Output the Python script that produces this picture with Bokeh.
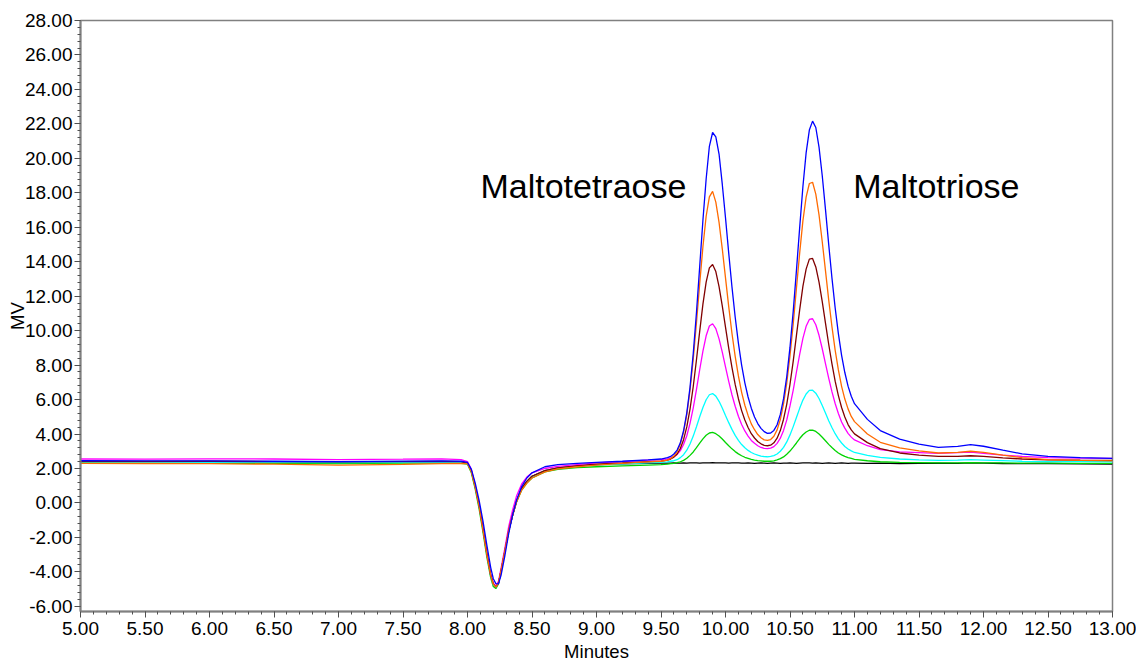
import numpy as np
from bokeh.plotting import figure
from bokeh.models import FixedTicker, PrintfTickFormatter, Label
from bokeh.embed import file_html
from bokeh.resources import INLINE

# ---------------- data ----------------
minutes = [
    5.00, 5.50, 6.00, 6.50, 7.00, 7.50, 7.80, 7.95,
    8.00, 8.03, 8.06, 8.09, 8.12, 8.15, 8.18, 8.20, 8.22, 8.24, 8.26, 8.29,
    8.32, 8.35, 8.38, 8.42, 8.46, 8.50,
    8.60, 8.70, 8.85, 9.00, 9.20, 9.40, 9.50,
    9.550, 9.575, 9.600, 9.625, 9.650, 9.675, 9.700, 9.725, 9.750, 9.775,
    9.800, 9.825, 9.850, 9.875, 9.900, 9.925, 9.950, 9.975, 10.000, 10.025,
    10.050, 10.075, 10.100, 10.125, 10.150, 10.175, 10.200, 10.225, 10.250, 10.275,
    10.300, 10.325, 10.350, 10.375, 10.400, 10.425, 10.450, 10.475, 10.500, 10.525,
    10.550, 10.575, 10.600, 10.625, 10.650, 10.675, 10.700, 10.725, 10.750, 10.775,
    10.800, 10.825, 10.850, 10.875, 10.900, 10.925, 10.950, 10.975, 11.000,
    11.10, 11.20, 11.35, 11.50, 11.65, 11.80, 11.90, 12.00, 12.15, 12.30, 12.50, 12.75, 13.00,
]

mv_blue = [
    2.45, 2.44, 2.44, 2.42, 2.40, 2.43, 2.44, 2.42,
    2.35, 1.95, 1.15, 0.15, -1.05, -2.45, -3.75, -4.40, -4.68, -4.70, -4.20, -3.05,
    -1.75, -0.70, 0.15, 0.95, 1.45, 1.75,
    2.10, 2.22, 2.30, 2.35, 2.42, 2.50, 2.55,
    2.63, 2.70, 2.84, 3.07, 3.49, 4.19, 5.23, 6.71, 8.67, 11.05,
    13.72, 16.41, 18.80, 20.70, 21.50, 21.25, 20.25, 18.50, 16.55, 14.50,
    12.55, 10.79, 9.28, 8.00, 6.97, 6.15, 5.50, 4.99, 4.61, 4.33,
    4.14, 4.04, 4.06, 4.21, 4.54, 5.14, 6.05, 7.33, 9.04, 11.12,
    13.50, 15.98, 18.35, 20.32, 21.64, 22.16, 21.79, 20.65, 18.99, 17.04,
    15.01, 13.07, 11.33, 9.83, 8.57, 7.57, 6.78, 6.19, 5.76,
    4.85, 4.20, 3.70, 3.42, 3.22, 3.28, 3.38, 3.29, 3.06, 2.85, 2.70, 2.63, 2.59,
]

mv_orange = [
    2.30, 2.29, 2.28, 2.25, 2.20, 2.24, 2.28, 2.30,
    2.28, 1.80, 0.90, -0.20, -1.55, -3.00, -4.22, -4.72, -4.88, -4.64, -3.92, -2.78,
    -1.60, -0.72, 0.05, 0.75, 1.15, 1.45,
    1.80, 1.98, 2.10, 2.20, 2.30, 2.38, 2.42,
    2.49, 2.58, 2.72, 2.97, 3.41, 4.11, 5.12, 6.54, 8.34, 10.46,
    12.72, 14.87, 16.64, 17.76, 18.08, 17.46, 16.28, 14.75, 13.06, 11.39,
    9.85, 8.51, 7.37, 6.42, 5.67, 5.08, 4.59, 4.25, 3.97, 3.78,
    3.66, 3.63, 3.68, 3.87, 4.24, 4.84, 5.75, 6.96, 8.55, 10.39,
    12.47, 14.50, 16.37, 17.75, 18.54, 18.61, 17.92, 16.72, 15.16, 13.48,
    11.79, 10.24, 8.87, 7.72, 6.77, 6.03, 5.46, 5.02, 4.72,
    4.00, 3.52, 3.20, 3.02, 2.90, 2.93, 3.00, 2.94, 2.78, 2.63, 2.52, 2.47, 2.44,
]

mv_darkred = [
    2.42, 2.41, 2.42, 2.40, 2.38, 2.40, 2.41, 2.40,
    2.30, 1.85, 0.95, -0.15, -1.50, -2.95, -4.20, -4.70, -4.88, -4.65, -3.95, -2.80,
    -1.60, -0.70, 0.10, 0.85, 1.25, 1.55,
    1.88, 2.03, 2.15, 2.25, 2.32, 2.40, 2.43,
    2.49, 2.55, 2.66, 2.84, 3.16, 3.67, 4.41, 5.45, 6.76, 8.31,
    9.96, 11.54, 12.82, 13.64, 13.84, 13.43, 12.56, 11.44, 10.21, 8.99,
    7.87, 6.88, 6.05, 5.36, 4.81, 4.38, 4.02, 3.77, 3.57, 3.43,
    3.34, 3.32, 3.35, 3.49, 3.76, 4.20, 4.86, 5.74, 6.89, 8.23,
    9.73, 11.21, 12.57, 13.57, 14.15, 14.19, 13.70, 12.82, 11.68, 10.44,
    9.21, 8.08, 7.07, 6.23, 5.54, 4.99, 4.55, 4.24, 4.01,
    3.50, 3.15, 2.90, 2.78, 2.70, 2.70, 2.74, 2.70, 2.62, 2.55, 2.50, 2.48, 2.47,
]

mv_magenta = [
    2.55, 2.54, 2.56, 2.55, 2.52, 2.54, 2.56, 2.52,
    2.40, 1.95, 1.00, -0.10, -1.45, -2.90, -4.15, -4.65, -4.82, -4.55, -3.80, -2.60,
    -1.35, -0.40, 0.40, 1.10, 1.50, 1.75,
    2.00, 2.12, 2.22, 2.32, 2.40, 2.48, 2.52,
    2.56, 2.62, 2.69, 2.82, 3.04, 3.39, 3.90, 4.62, 5.52, 6.59,
    7.73, 8.81, 9.70, 10.27, 10.40, 10.12, 9.52, 8.75, 7.90, 7.06,
    6.28, 5.61, 5.03, 4.55, 4.18, 3.88, 3.63, 3.46, 3.32, 3.22,
    3.17, 3.15, 3.18, 3.27, 3.46, 3.76, 4.21, 4.82, 5.63, 6.55,
    7.60, 8.62, 9.55, 10.25, 10.65, 10.69, 10.34, 9.73, 8.95, 8.09,
    7.25, 6.46, 5.77, 5.19, 4.70, 4.34, 4.04, 3.82, 3.66,
    3.32, 3.10, 2.96, 2.92, 2.88, 2.92, 2.95, 2.88, 2.78, 2.70, 2.63, 2.60, 2.59,
]

mv_cyan = [
    2.38, 2.37, 2.36, 2.36, 2.34, 2.36, 2.37, 2.36,
    2.28, 1.82, 0.92, -0.18, -1.55, -3.00, -4.25, -4.75, -4.90, -4.66, -3.95, -2.78,
    -1.58, -0.68, 0.10, 0.83, 1.22, 1.52,
    1.88, 2.02, 2.12, 2.20, 2.27, 2.33, 2.36,
    2.38, 2.42, 2.45, 2.51, 2.63, 2.80, 3.06, 3.42, 3.88, 4.42,
    5.00, 5.54, 5.99, 6.28, 6.35, 6.20, 5.90, 5.51, 5.08, 4.66,
    4.27, 3.92, 3.63, 3.39, 3.20, 3.05, 2.93, 2.84, 2.77, 2.72,
    2.69, 2.68, 2.70, 2.75, 2.84, 3.00, 3.23, 3.54, 3.95, 4.43,
    4.96, 5.49, 5.97, 6.32, 6.53, 6.54, 6.37, 6.06, 5.65, 5.22,
    4.77, 4.38, 4.02, 3.72, 3.48, 3.28, 3.13, 3.02, 2.93,
    2.76, 2.64, 2.55, 2.50, 2.47, 2.49, 2.51, 2.49, 2.46, 2.42, 2.40, 2.40, 2.39,
]

mv_green = [
    2.32, 2.31, 2.30, 2.30, 2.29, 2.31, 2.32, 2.30,
    2.25, 1.75, 0.80, -0.35, -1.70, -3.15, -4.35, -4.85, -4.97, -4.70, -3.95, -2.75,
    -1.55, -0.68, 0.05, 0.75, 1.15, 1.45,
    1.80, 1.95, 2.05, 2.10, 2.15, 2.20, 2.22,
    2.25, 2.28, 2.30, 2.34, 2.39, 2.47, 2.59, 2.76, 2.96, 3.21,
    3.47, 3.72, 3.93, 4.06, 4.09, 4.02, 3.89, 3.71, 3.51, 3.32,
    3.14, 2.98, 2.85, 2.74, 2.65, 2.59, 2.53, 2.49, 2.46, 2.44,
    2.42, 2.42, 2.42, 2.44, 2.50, 2.57, 2.67, 2.83, 3.01, 3.24,
    3.48, 3.74, 3.96, 4.12, 4.22, 4.23, 4.15, 4.00, 3.81, 3.61,
    3.40, 3.22, 3.05, 2.90, 2.79, 2.70, 2.63, 2.58, 2.53,
    2.45, 2.39, 2.35, 2.34, 2.32, 2.33, 2.34, 2.33, 2.32, 2.31, 2.31, 2.30, 2.30,
]

mv_black = [
    2.40, 2.40, 2.39, 2.38, 2.36, 2.38, 2.39, 2.38,
    2.30, 1.85, 0.95, -0.15, -1.50, -2.95, -4.20, -4.70, -4.86, -4.65, -3.95, -2.80,
    -1.60, -0.70, 0.10, 0.85, 1.25, 1.55,
    1.88, 2.03, 2.15, 2.22, 2.27, 2.30, 2.31,
    2.31, 2.31, 2.32, 2.31, 2.31, 2.32, 2.31, 2.32, 2.33, 2.32,
    2.31, 2.32, 2.33, 2.33, 2.34, 2.33, 2.32, 2.33, 2.32, 2.31,
    2.32, 2.33, 2.32, 2.31, 2.31, 2.32, 2.31, 2.30, 2.31, 2.32,
    2.31, 2.30, 2.31, 2.32, 2.31, 2.30, 2.31, 2.31, 2.32, 2.31,
    2.30, 2.31, 2.32, 2.33, 2.32, 2.31, 2.32, 2.31, 2.30, 2.31,
    2.32, 2.31, 2.30, 2.31, 2.32, 2.31, 2.30, 2.31, 2.31,
    2.30, 2.31, 2.29, 2.30, 2.31, 2.30, 2.32, 2.31, 2.29, 2.28, 2.29, 2.27, 2.26,
]

x_tick_values = [5.0, 5.5, 6.0, 6.5, 7.0, 7.5, 8.0, 8.5, 9.0, 9.5, 10.0, 10.5,
                 11.0, 11.5, 12.0, 12.5, 13.0]
y_tick_values = [-6, -4, -2, 0, 2, 4, 6, 8, 10, 12, 14, 16, 18, 20, 22, 24, 26, 28]

peak_labels = [("Maltotetraose", 8.10, 18.40), ("Maltotriose", 10.99, 18.40)]

series = [
    (mv_black, "#000000"),
    (mv_green, "#00d400"),
    (mv_cyan, "#00ffff"),
    (mv_magenta, "#ff00ff"),
    (mv_darkred, "#800000"),
    (mv_orange, "#ff6a00"),
    (mv_blue, "#0000ff"),
]

for ys, _ in series:
    assert len(ys) == len(minutes), (len(ys), len(minutes))

# ---------------- figure ----------------
FONT = "Liberation Sans"
p = figure(width=1136, height=666, x_range=(5.0, 13.0), y_range=(-6.3, 28.0),
           output_backend="svg", toolbar_location=None,
           min_border_left=80, min_border_right=24, min_border_top=20,
           min_border_bottom=55)
p.background_fill_color = "white"
p.border_fill_color = "white"
p.outline_line_color = "#808080"
p.outline_line_width = 1.5
p.xgrid.visible = False
p.ygrid.visible = False

for ys, col in series:
    p.line(minutes, ys, line_color=col, line_width=1.3)

x_minor = [v for v in np.round(np.arange(5.0, 13.0001, 0.1), 2)]
y_minor = [v for v in np.round(np.arange(-6.0, 28.0001, 0.4), 2)]
p.xaxis.ticker = FixedTicker(ticks=x_tick_values, minor_ticks=x_minor)
p.yaxis.ticker = FixedTicker(ticks=y_tick_values, minor_ticks=y_minor)
p.xaxis.formatter = PrintfTickFormatter(format="%.2f")
p.yaxis.formatter = PrintfTickFormatter(format="%.2f")

for ax in (p.xaxis[0], p.yaxis[0]):
    ax.axis_line_color = "#808080"
    ax.axis_line_width = 2
    ax.major_tick_line_color = "#505050"
    ax.minor_tick_line_color = "#505050"
    ax.major_tick_out = 6
    ax.major_tick_in = 0
    ax.minor_tick_out = 3
    ax.minor_tick_in = 0
    ax.major_label_text_font = FONT
    ax.major_label_text_font_size = "19px"
    ax.major_label_text_color = "black"
    ax.axis_label_text_font = FONT
    ax.axis_label_text_font_size = "18.5px"
    ax.axis_label_text_font_style = "normal"
    ax.axis_label_text_color = "black"

p.xaxis.axis_label = "Minutes"
p.xaxis.major_label_standoff = 4
p.xaxis.axis_label_standoff = 3
p.yaxis.axis_label = "MV"
p.yaxis.major_label_standoff = 2
p.yaxis.axis_label_standoff = -6

for txt, lx, ly in peak_labels:
    p.add_layout(Label(x=lx, y=ly, text=txt, text_font=FONT,
                       text_font_size="34px", text_color="black",
                       text_align="left", text_baseline="alphabetic"))

open("out.html", "w").write(file_html(p, INLINE))
